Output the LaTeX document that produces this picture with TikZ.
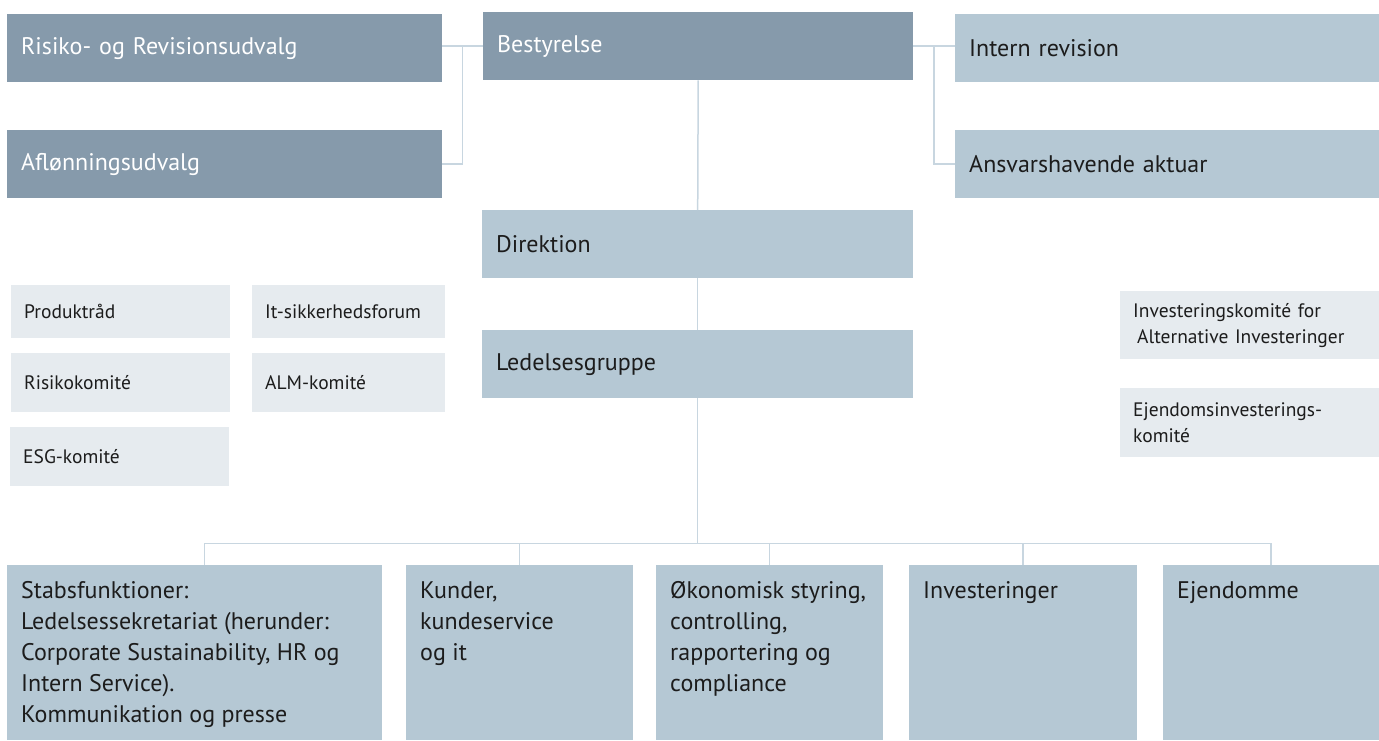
\documentclass[tikz,border=0pt]{standalone}
\usepackage{fontspec}
\setmainfont{PT Sans}
\usepackage{tikz}
\usetikzlibrary{calc, positioning}
\definecolor{boardblue}{RGB}{134,154,171}
\definecolor{unitblue}{RGB}{181,200,212}
\definecolor{forumgray}{RGB}{230,235,239}
\definecolor{linkblue}{RGB}{200,214,224}
\definecolor{inkgray}{RGB}{28,28,28}
\tikzset{
	every node/.style={
		font=\fontsize{24}{31}\selectfont
	},
	board/.style={
		shape=rectangle,
		fill=boardblue,
		text=white,
		anchor=north west,
		align=left,
		inner xsep=14pt,
		inner ysep=0pt,
		minimum height=68pt
	},
	unit/.style={
		shape=rectangle,
		fill=unitblue,
		text=inkgray,
		anchor=north west,
		align=left,
		inner xsep=14pt,
		inner ysep=0pt,
		minimum height=68pt
	},
	forum/.style={
		shape=rectangle,
		fill=forumgray,
		text=inkgray,
		anchor=north west,
		align=left,
		inner xsep=13pt,
		inner ysep=0pt,
		font=\fontsize{19.5}{26}\selectfont
	},
	link/.style={
		draw=linkblue,
		line width=1.5pt
	}
}

\begin{document}
\begin{tikzpicture}[x=1pt, y=-1pt]
	\useasboundingbox (0,0) rectangle (1379,740);
	
	% bestyrelse og udvalg
	\node[board, text width=407pt] (risiko) at (7,14) {Risiko- og Revisionsudvalg};
	\node[board, text width=407pt] (afl) at (7,130) {Aflønningsudvalg};
	\node[board, text width=402pt] (bestyrelse) at (483,12) {Bestyrelse};
	\node[unit, text width=396pt] (intern) at (955,14) {Intern revision};
	\node[unit, text width=396pt] (ansvar) at (955,130) {Ansvarshavende aktuar};
	\node[unit, text width=403pt] (direktion) at (482,210) {Direktion};
	\node[unit, text width=403pt] (ledelse) at (482,330) {Ledelsesgruppe};
	
	% komitéer og fora
	\node[forum, text width=193pt, minimum height=53pt] (produkt) at (11,285) {Produktråd};
	\node[forum, text width=193pt, minimum height=59pt] (risikokom) at (11,353) {Risikokomité};
	\node[forum, text width=193pt, minimum height=59pt] (esg) at (10,427) {ESG-komité};
	\node[forum, text width=167pt, minimum height=53pt] (itsik) at (252,285) {It-sikkerhedsforum};
	\node[forum, text width=167pt, minimum height=59pt] (alm) at (252,353) {ALM-komité};
	\node[forum, text width=233pt, minimum height=68pt] (invkom) at (1120,291) {Investeringskomité for\\\hspace*{4pt}Alternative Investeringer};
	\node[forum, text width=233pt, minimum height=69pt] (ejdkom) at (1120,388) {Ejendomsinvesterings-\\komité};
	
	% forretningsområder
	\node[unit, minimum height=175pt] (stabs) at (7,565) {\parbox[c][175pt][t]{347pt}{\vspace*{16pt}Stabsfunktioner:\\Ledelsessekretariat (herunder:\\Corporate Sustainability, HR og\\Intern Service).\\Kommunikation og presse}};
	\node[unit, minimum height=175pt] (kunder) at (406,565) {\parbox[c][175pt][t]{199pt}{\vspace*{16pt}Kunder,\\kundeservice\\og it}};
	\node[unit, minimum height=175pt] (okon) at (656,565) {\parbox[c][175pt][t]{199pt}{\vspace*{16pt}Økonomisk styring,\\controlling,\\rapportering og\\compliance}};
	\node[unit, minimum height=175pt] (inv) at (909,565) {\parbox[c][175pt][t]{200pt}{\vspace*{16pt}Investeringer}};
	\node[unit, minimum height=175pt] (ejd) at (1163,565) {\parbox[c][175pt][t]{188pt}{\vspace*{16pt}Ejendomme}};
	
	% forbindelser
	\draw[link] (risiko.east |- bestyrelse.west) -- (bestyrelse.west);
	\draw[link] ($(risiko.east)!0.5!(bestyrelse.west)$) |- (afl.east);
	\draw[link] (bestyrelse.east) -- (intern.west |- bestyrelse.east);
	\draw[link] ($(bestyrelse.east)!0.5!(intern.west)$) |- (ansvar.west);
	\draw[link] (bestyrelse.south) -- (direktion.north);
	\draw[link] (direktion.south) -- (ledelse.north);
	\draw[link] (ledelse.south) -- ++(0,145) coordinate (bus);
	\coordinate (stabsdrop) at ([xshift=10pt]stabs.north);
	\draw[link] (stabsdrop |- bus) -- (ejd.north |- bus);
	\foreach \n in {stabsdrop, kunder.north, okon.north, inv.north, ejd.north}
		\draw[link] (\n) -- (\n |- bus);
\end{tikzpicture}
\end{document}
